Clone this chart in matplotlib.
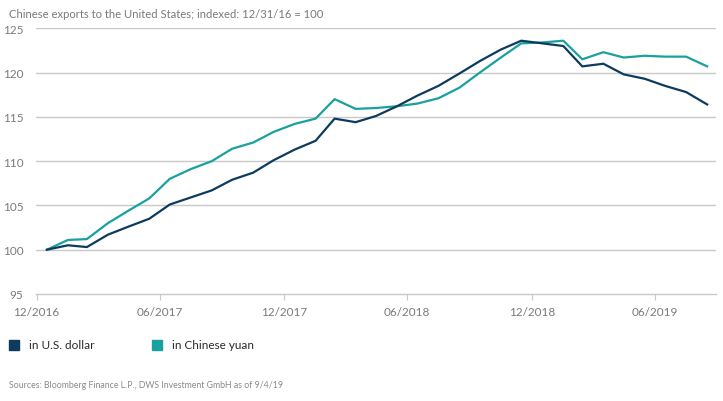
import numpy as np
import pandas as pd
import matplotlib
matplotlib.use("Agg")
import matplotlib.pyplot as plt
import matplotlib.dates as mdates
from matplotlib.patches import Rectangle

plt.rcParams['font.family'] = ['Lato', 'DejaVu Sans']

# monthly values, Dec 2016 .. Aug 2019 (indexed, 12/31/16 = 100)
months = pd.date_range("2016-12-31", periods=33, freq="ME")
usd = [100.0, 100.5, 100.3, 101.7, 102.6, 103.5, 105.1, 105.9, 106.7, 107.9,
       108.7, 110.1, 111.3, 112.3, 114.8, 114.4, 115.1, 116.2, 117.4, 118.5,
       119.9, 121.3, 122.6, 123.6, 123.3, 123.0, 120.7, 121.0, 119.8, 119.3,
       118.5, 117.8, 116.4]
cny = [100.0, 101.1, 101.2, 103.0, 104.4, 105.8, 108.0, 109.1, 110.0, 111.4,
       112.1, 113.3, 114.2, 114.8, 117.0, 115.9, 116.0, 116.2, 116.5, 117.1,
       118.3, 120.0, 121.7, 123.3, 123.4, 123.6, 121.5, 122.3, 121.7, 121.9,
       121.8, 121.8, 120.7]
tick_dates = pd.to_datetime(["2016-12-16", "2017-06-15", "2017-12-16",
                             "2018-06-15", "2018-12-16", "2019-06-15"])
tick_labels = ["12/2016", "06/2017", "12/2017", "06/2018", "12/2018", "06/2019"]
y_ticks = [95, 100, 105, 110, 115, 120, 125]

navy = "#0d3b5e"
teal = "#19a19e"
grid_c = "#c8c8c8"
txt_c = "#7a7a7a"

fig = plt.figure(figsize=(7.23, 4.02), dpi=100)
ax = fig.add_axes([36 / 723, 1 - 295 / 402, (716 - 36) / 723, (295 - 29.3) / 402])

ax.plot(months, cny, color=teal, lw=1.6, zorder=3)
ax.plot(months, usd, color=navy, lw=1.6, zorder=4)

ax.set_ylim(95, 125)
ax.set_xlim(pd.Timestamp("2016-12-15"), pd.Timestamp("2019-09-13"))
ax.set_yticks(y_ticks)
ax.set_xticks(tick_dates)
ax.set_xticklabels(tick_labels)

for v in y_ticks[1:]:
    ax.axhline(v, color=grid_c, lw=1.0, zorder=1)

for s in ["top", "right", "left"]:
    ax.spines[s].set_visible(False)
ax.spines["bottom"].set_color(grid_c)
ax.spines["bottom"].set_linewidth(1.0)
ax.tick_params(axis="y", length=0, pad=9, labelsize=8.5, labelcolor=txt_c)
ax.tick_params(axis="x", length=4, color=grid_c, pad=5, labelsize=8.5, labelcolor=txt_c)

fig.text(9 / 723, 1 - 14 / 402, "Chinese exports to the United States; indexed: 12/31/16 = 100",
         fontsize=8.1, color=txt_c, va="center", ha="left")

# legend
for x0, col, lab in [(9, navy, "in U.S. dollar"), (152, teal, "in Chinese yuan")]:
    fig.add_artist(Rectangle((x0 / 723, 1 - 351 / 402), 10 / 723, 10 / 402,
                             transform=fig.transFigure, color=col))
    fig.text((x0 + 20) / 723, 1 - 346 / 402, lab, fontsize=8.5, color="#2a2a2a",
             va="center", ha="left")

fig.text(9 / 723, 1 - 386 / 402,
         "Sources: Bloomberg Finance L.P., DWS Investment GmbH as of 9/4/19",
         fontsize=6.3, color="#8a8a8a", va="center", ha="left")

fig.savefig("out.png", dpi=100)
